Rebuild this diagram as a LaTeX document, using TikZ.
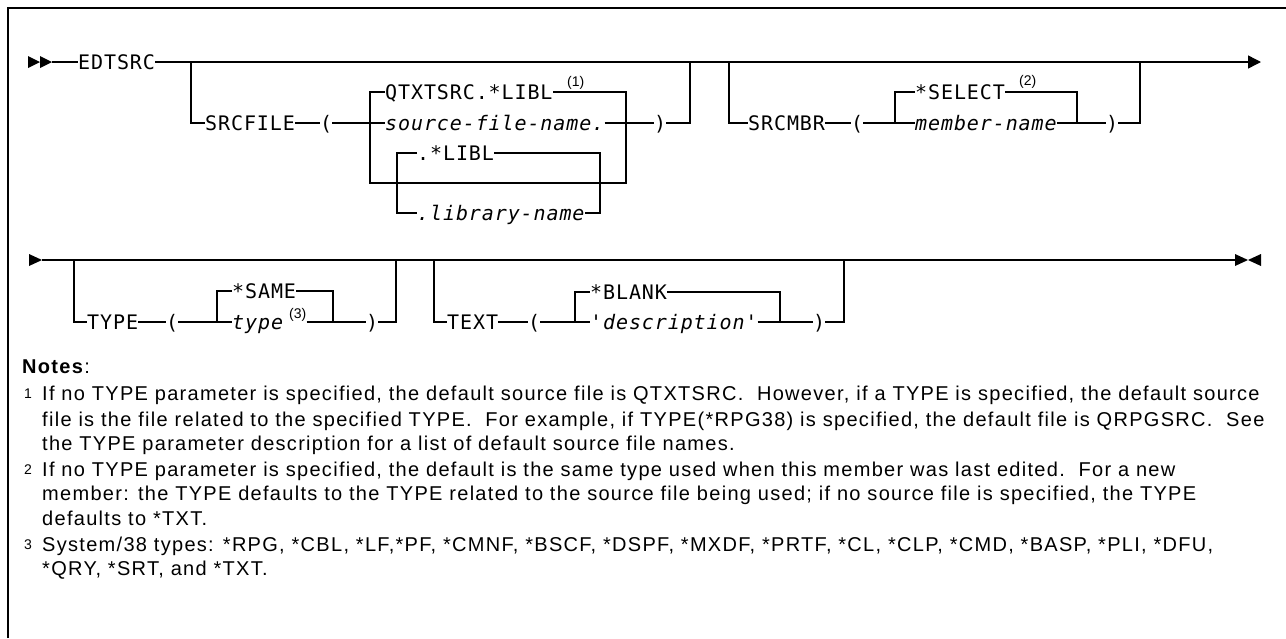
\documentclass[tikz,border=0pt]{standalone}
\usepackage{fontspec}
\setmainfont{Liberation Sans}
\newfontfamily\notefont[LetterSpace=6.5]{Liberation Sans}
\newfontfamily\dgfont[LetterSpace=4.5]{DejaVu Sans Mono}
\newfontfamily\dgitfont[LetterSpace=4.5,UprightFont=*-Oblique]{DejaVu Sans Mono}
\usetikzlibrary{arrows.meta}
\begin{document}
\begin{tikzpicture}[x=1pt,y=-1pt,
  ln/.style={line width=1.4pt},
  kw/.style={font=\fontsize{20}{20}\dgfont, inner sep=0pt, anchor=west, text height=14.5pt, text depth=0pt},
  var/.style={font=\fontsize{20}{20}\dgitfont, inner sep=0pt, anchor=west, text height=14.5pt, text depth=0pt},
  par/.style={font=\fontsize{20}{20}\dgfont, inner sep=0pt, anchor=west, text height=14.5pt, text depth=0pt},
  supnote/.style={font=\fontsize{14}{14}\selectfont, inner sep=0pt, anchor=south west},
  noteline/.style={font=\fontsize{20}{20}\notefont, inner sep=0pt, anchor=base west},
  notenum/.style={font=\fontsize{14}{14}\notefont, inner sep=0pt, anchor=base west},
  tip/.style={fill=black}
]
\useasboundingbox (0,0) rectangle (1286,638);
% frame
\draw[ln] (8,638) -- (8,8) -- (1286,8);

% ---------- row 1 ----------
\fill[tip] (28,56) -- (40,62) -- (28,68) -- cycle;
\fill[tip] (40,56) -- (52,62) -- (40,68) -- cycle;
\coordinate (st1) at (52,62);
\node[kw] (edt) at (78,62) {EDTSRC};
\coordinate (end1) at (1261,62);
\draw[ln] (st1) -- (edt.west);
\draw[ln,-{Triangle[length=13pt,width=13pt]}] (edt.east) -- (end1);

% SRCFILE
\coordinate (j1) at (191,62);
\node[kw] (srcfile) at (205,123) {SRCFILE};
\node[par] (lp1) at (320,123) {(};
\coordinate (j2) at (370,123);
\node[kw] (qtx) at (385,92) {QTXTSRC.*LIBL};
\node[supnote] (s1) at (567,90) {(1)};
\node[var] (sfn) at (385,123) {source-file-name.};
\node[par] (rp1) at (654,123) {)};
\coordinate (j3) at (690,62);
\coordinate (bl) at (370,183);
\coordinate (br) at (626,183);
\node[kw] (libl) at (417,153) {.*LIBL};
\node[var] (libn) at (417,213) {.library-name};
\coordinate (il) at (397,213);
\coordinate (ir) at (600,213);

\draw[ln] (j1) |- (srcfile.west);
\draw[ln] (srcfile.east) -- (lp1.west);
\draw[ln] (lp1.east) -- (sfn.west);
\draw[ln] (qtx.west) -| (bl) -- (br) |- (qtx.east);
\draw[ln] (sfn.east) -- (rp1.west);
\draw[ln] (rp1.east) -| (j3);
\draw[ln] (libl.west) -| (il) -- (libn.west);
\draw[ln] (libl.east) -| (ir) -- (libn.east);

% SRCMBR
\coordinate (j4) at (729,62);
\node[kw] (srcmbr) at (748,123) {SRCMBR};
\node[par] (lp2) at (851,123) {(};
\coordinate (j5) at (895,123);
\node[kw] (sel) at (915,92) {*SELECT};
\node[supnote] (s2) at (1019,89) {(2)};
\node[var] (mbn) at (915,123) {member-name};
\coordinate (j6) at (1077,123);
\node[par] (rp2) at (1106,123) {)};
\coordinate (j7) at (1140,62);

\draw[ln] (j4) |- (srcmbr.west);
\draw[ln] (srcmbr.east) -- (lp2.west);
\draw[ln] (lp2.east) -- (mbn.west);
\draw[ln] (sel.west) -| (j5);
\draw[ln] (sel.east) -| (j6);
\draw[ln] (mbn.east) -- (rp2.west);
\draw[ln] (rp2.east) -| (j7);

% ---------- row 2 ----------
\fill[tip] (29,254) -- (42,260) -- (29,266) -- cycle;
\coordinate (st2) at (42,260);
\coordinate (end2) at (1235,260);
\draw[ln] (st2) -- (end2);
\fill[tip] (1235,254) -- (1248,260) -- (1235,266) -- cycle;
\fill[tip] (1261,254) -- (1248,260) -- (1261,266) -- cycle;

% TYPE
\coordinate (k1) at (74,260);
\node[kw] (typ) at (87,322) {TYPE};
\node[par] (lp3) at (166,322) {(};
\coordinate (k2) at (217,322);
\node[kw] (same) at (232,291) {*SAME};
\node[var] (typv) at (232,322) {type};
\node[supnote] (s3) at (289,322) {(3)};
\coordinate (k3) at (333,322);
\node[par] (rp3) at (366,322) {)};
\coordinate (k4) at (396,260);

\draw[ln] (k1) |- (typ.west);
\draw[ln] (typ.east) -- (lp3.west);
\draw[ln] (lp3.east) -- (typv.west);
\draw[ln] (same.west) -| (k2);
\draw[ln] (same.east) -| (k3);
\draw[ln] (s3.south east) -- (rp3.west);
\draw[ln] (rp3.east) -| (k4);

% TEXT
\coordinate (t1) at (434,260);
\node[kw] (txt) at (447,322) {TEXT};
\node[par] (lp4) at (528,322) {(};
\coordinate (t2) at (575,322);
\node[kw] (blank) at (590,292) {*BLANK};
\node[var] (desc) at (590,322) {'description'};
\coordinate (t3) at (780,322);
\node[par] (rp4) at (813,322) {)};
\coordinate (t4) at (844,260);

\draw[ln] (t1) |- (txt.west);
\draw[ln] (txt.east) -- (lp4.west);
\draw[ln] (lp4.east) -- (desc.west);
\draw[ln] (blank.west) -| (t2);
\draw[ln] (blank.east) -| (t3);
\draw[ln] (desc.east) -- (rp4.west);
\draw[ln] (rp4.east) -| (t4);

% ---------- notes ----------
\node[noteline] (nh) at (22,373) {\textbf{Notes}:};
\node[notenum] (n1) at (24,398) {1};
\node[noteline] (l1a) at (42,400) {If no TYPE parameter is specified, the default source file is QTXTSRC.\ \ However, if a TYPE is specified, the default source};
\node[noteline] (l1b) at (42,426) {file is the file related to the specified TYPE.\ \ For example, if TYPE(*RPG38) is specified, the default file is QRPGSRC.\ \ See};
\node[noteline] (l1c) at (42,450) {the TYPE parameter description for a list of default source file names.};
\node[notenum] (n2) at (24,474) {2};
\node[noteline] (l2a) at (42,476) {If no TYPE parameter is specified, the default is the same type used when this member was last edited.\ \ For a new};
\node[noteline] (l2b) at (42,500) {member: the TYPE defaults to the TYPE related to the source file being used; if no source file is specified, the TYPE};
\node[noteline] (l2c) at (42,525) {defaults to *TXT.};
\node[notenum] (n3) at (24,549) {3};
\node[noteline] (l3a) at (42,551) {System/38 types: *RPG, *CBL, *LF,*PF, *CMNF, *BSCF, *DSPF, *MXDF, *PRTF, *CL, *CLP, *CMD, *BASP, *PLI, *DFU,};
\node[noteline] (l3b) at (42,575) {*QRY, *SRT, and *TXT.};
\end{tikzpicture}
\end{document}
